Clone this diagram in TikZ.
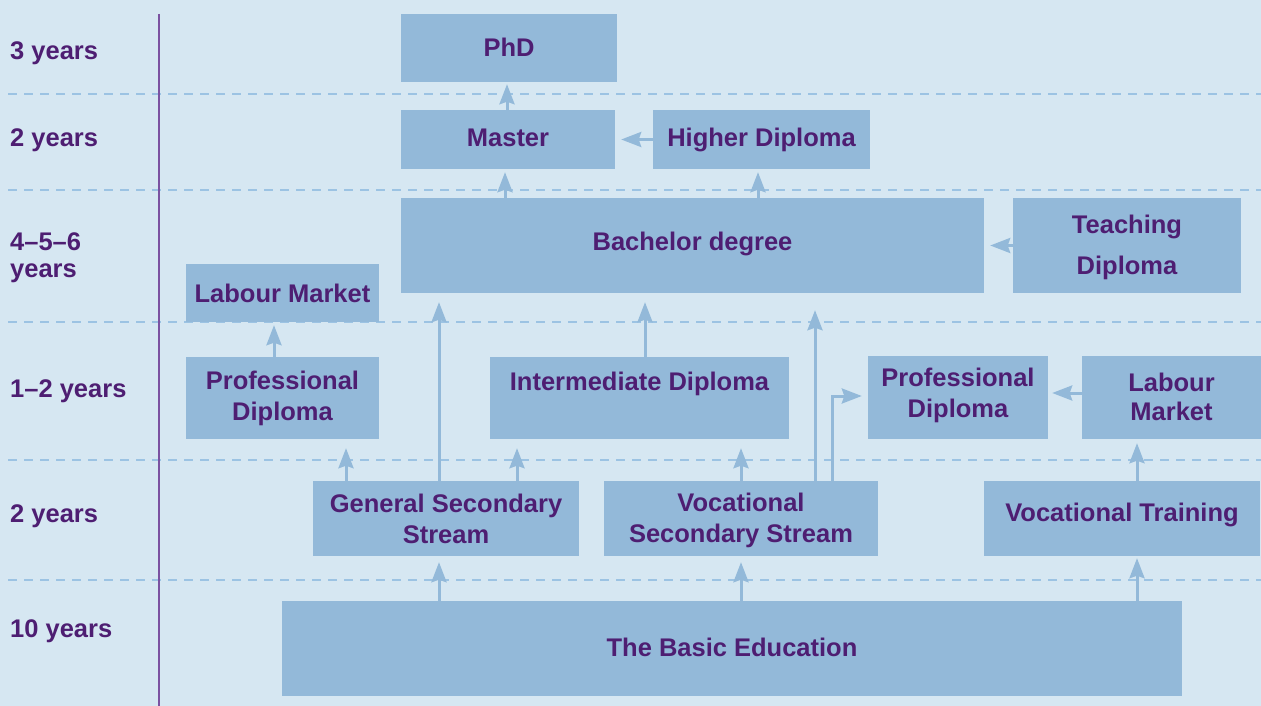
\documentclass[tikz,border=0pt]{standalone}
\usepackage{fontspec}
\setmainfont{Liberation Sans}
\usetikzlibrary{arrows.meta,calc}
\definecolor{bg}{HTML}{D6E7F2}
\definecolor{boxc}{HTML}{93B9D9}
\definecolor{txt}{HTML}{4E1E72}
\definecolor{vline}{HTML}{7B52A1}
\definecolor{dashc}{HTML}{9CC3E3}
\tikzset{
 box/.style={fill=boxc, draw=none, inner sep=0pt, font=\fontsize{25.5}{31}\selectfont\bfseries, text=txt, align=center},
 boxtxt/.style={box, fill=none},
 yearlbl/.style={anchor=west, inner sep=0pt, font=\fontsize{25.5}{27}\selectfont\bfseries, text=txt, align=left},
 arr/.style={draw=boxc, line width=3pt, -{Stealth[length=20pt,width=15pt,inset=2.5pt]}},
 sepline/.style={draw=dashc, line width=1.2pt, dash pattern=on 9pt off 7pt},
}
\begin{document}
\begin{tikzpicture}[x=1pt,y=-1pt]
\fill[bg] (0,0) rectangle (1261,706);
\useasboundingbox (0,0) rectangle (1261,706);
% separators
\foreach \yy in {94,190,322,460,580} {\draw[sepline] (8,\yy) -- (1261,\yy);}
\draw[vline, line width=2.8pt] (159,14) -- (159,706);
% year labels
\node[yearlbl] (y1) at (10,53) {3 years};
\node[yearlbl] (y2) at (10,140) {2 years};
\node[yearlbl] (y3) at (10,258) {4--5--6\\years};
\node[yearlbl] (y4) at (10,391) {1--2 years};
\node[yearlbl] (y5) at (10,516) {2 years};
\node[yearlbl] (y6) at (10,631) {10 years};
% boxes
\node[box, minimum width=216, minimum height=68] (phd) at (509,48) {};
\node[boxtxt] (phdtxt) at ($(phd.center)+(0,-1)$) {PhD};
\node[box, minimum width=214, minimum height=59] (master) at (508,139.5) {};
\node[boxtxt] (mastertxt) at ($(master.center)+(0,-2)$) {Master};
\node[box, minimum width=217, minimum height=59] (higher) at (761.5,139.5) {Higher Diploma};
\node[box, minimum width=583, minimum height=95] (bach) at (692.5,245.5) {};
\node[boxtxt] (bachtxt) at ($(bach.center)+(0,-2)$) {Bachelor degree};
\node[box, minimum width=228, minimum height=95] (teach) at (1127,245.5) {};
\node[boxtxt, font=\fontsize{25.5}{41}\selectfont\bfseries] (teachtxt) at ($(teach.center)+(0,2)$) {Teaching\\Diploma};
\node[box, minimum width=193, minimum height=58] (labl) at (282.5,293) {Labour Market};
\node[box, minimum width=193, minimum height=82] (profl) at (282.5,398) {Professional\\Diploma};
\node[box, minimum width=299, minimum height=82] (interm) at (639.5,398) {};
\node[boxtxt] (intermtxt) at ($(interm.north)+(0,27)$) {Intermediate Diploma};
\node[box, minimum width=180, minimum height=83] (profr) at (958,397.5) {};
\node[boxtxt] (profrtxt) at ($(profr.center)+(0,-2)$) {Professional\\Diploma};
\node[box, minimum width=179, minimum height=83] (labr) at (1171.5,397.5) {};
\node[boxtxt, font=\fontsize{25.5}{29}\selectfont\bfseries] (labrtxt) at ($(labr.center)+(0,-1)$) {Labour\\Market};
\node[box, minimum width=266, minimum height=75] (gss) at (446,518.5) {General Secondary\\Stream};
\node[box, minimum width=274, minimum height=75] (vss) at (741,518.5) {};
\node[boxtxt] (vsstxt) at ($(vss.center)+(0,2)$) {Vocational\\Secondary Stream};
\node[box, minimum width=276, minimum height=75] (vt) at (1122,518.5) {};
\node[boxtxt] (vttxt) at ($(vt.center)+(0,-4)$) {Vocational Training};
\node[box, minimum width=900, minimum height=95] (basic) at (732,648.5) {};
\node[boxtxt] (basictxt) at ($(basic.center)+(0,-1)$) {The Basic Education};
% arrows
\draw[arr] ($(master.north)+(-1,0)$) -- ($(phd.south)+(-2,2)$);
\draw[arr] (higher.west) -- ($(master.east)+(6,0)$);
\draw[arr] ($(bach.north -| master.north)+(-3,0)$) -- ($(master.south)+(-3,3)$);
\draw[arr] ($(bach.north -| higher.south)+(-3.5,0)$) -- ($(higher.south)+(-3.5,3)$);
\draw[arr] (teach.west) -- ($(bach.east)+(6,0)$);
\draw[arr] ($(profl.north)+(-8.5,0)$) -- ($(labl.south)+(-8.5,3)$);
\draw[arr] ($(gss.north)+(-100,0)$) -- ($(profl.south)+(63.5,9)$);
\draw[arr] ($(gss.north)+(-7,0)$) -- ($(bach.south)+(-253.5,9)$);
\draw[arr] ($(gss.north)+(71,0)$) -- ($(interm.south)+(-122.5,9)$);
\draw[arr] ($(interm.north)+(5.5,0)$) -- ($(bach.south)+(-47.5,9)$);
\draw[arr] (vss.north) -- ($(interm.south)+(101.5,9)$);
\draw[arr] ($(vss.north)+(74,0)$) -- ($(bach.south)+(122.5,17)$);
\draw[arr] ($(vss.north)+(91,0)$) |- ($(profr.west)+(-6,-1.5)$);
\draw[arr] ($(labr.west)+(0,-4.5)$) -- ($(profr.east)+(4,-4.5)$);
\draw[arr] ($(vt.north)+(15,0)$) -- ($(labr.south)+(-34.5,4)$);
\draw[arr] ($(basic.north)+(-293,0)$) -- ($(gss.south)+(-7,6)$);
\draw[arr] ($(basic.north)+(9,0)$) -- ($(vss.south)+(0,6)$);
\draw[arr] ($(basic.north)+(405,0)$) -- ($(vt.south)+(15,2)$);
\end{tikzpicture}
\end{document}
